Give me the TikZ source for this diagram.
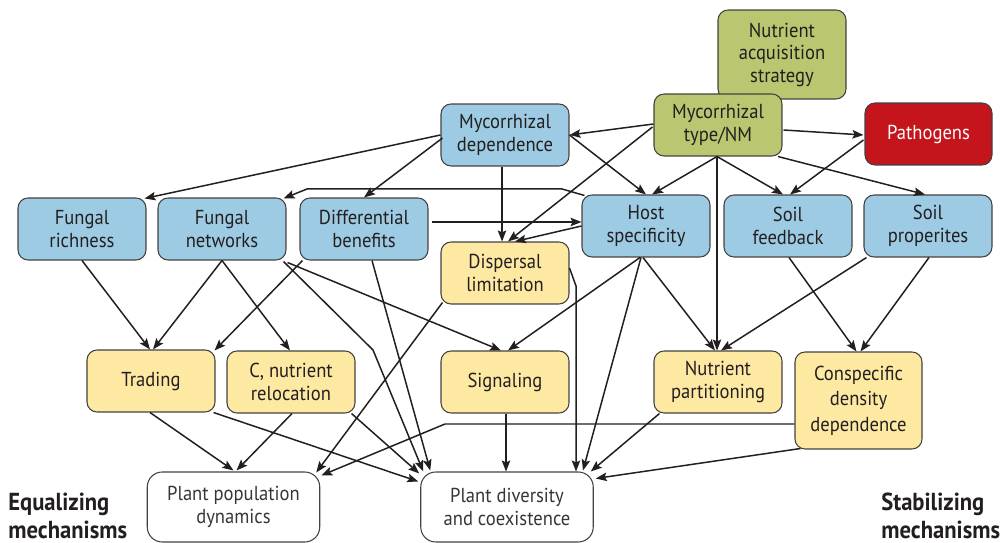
\documentclass[tikz,border=0pt]{standalone}
\usepackage{fontspec}
\setmainfont{PT Sans}[FakeStretch=0.92]
\usetikzlibrary{arrows.meta}
\definecolor{mblue}{RGB}{157,203,227}
\definecolor{mgreen}{RGB}{187,198,112}
\definecolor{mred}{RGB}{196,21,28}
\definecolor{myellow}{RGB}{254,233,163}
\definecolor{txt}{RGB}{35,31,32}
\begin{document}
\begin{tikzpicture}[x=0.02cm,y=-0.02cm,
  box/.style={draw=txt!85, line width=0.6pt, rounded corners=0.2cm,
    minimum width=2.56cm, minimum height=1.24cm, align=center,
    font=\fontsize{11.5}{12.8}\selectfont, text=txt, inner sep=1pt},
  bluebox/.style={box, fill=mblue},
  greenbox/.style={box, fill=mgreen},
  yellowbox/.style={box, fill=myellow},
  redbox/.style={box, fill=mred, text=white},
  outbox/.style={box, fill=white, draw=txt!85, rounded corners=0.3cm,
    minimum width=3.45cm, minimum height=1.4cm, text=txt!90},
  lab/.style={font=\fontsize{14}{15.5}\selectfont\bfseries, text=txt,
    align=left, anchor=north west, inner sep=0pt},
  arr/.style={draw=txt, line width=0.85pt,
    -{Stealth[length=2.2mm,width=1.7mm,inset=0.4mm]}}
]
\useasboundingbox (0,0) rectangle (1000,543);

% nodes
\node[greenbox, minimum height=1.78cm] (NAS) at (782,54.5) {Nutrient\\acquisition\\strategy};
\node[greenbox] (MT) at (718,125) {Mycorrhizal\\type/NM};
\node[redbox, minimum width=2.54cm] (PA) at (928.5,134) {Pathogens};
\node[bluebox] (MD) at (505,135) {Mycorrhizal\\dependence};
\node[bluebox] (FR) at (82,229) {Fungal\\richness};
\node[bluebox] (FN) at (222,229) {Fungal\\networks};
\node[bluebox] (DB) at (364,229) {Differential\\benefits};
\node[bluebox] (HS) at (646,226) {Host\\specificity};
\node[bluebox] (SF) at (788,226) {Soil\\feedback};
\node[bluebox] (SP) at (928,226) {Soil\\properites};
\node[yellowbox] (DL) at (505,273) {Dispersal\\limitation};
\node[yellowbox] (TR) at (151,381) {Trading};
\node[yellowbox] (CR) at (291,382) {C, nutrient\\relocation};
\node[yellowbox] (SG) at (505,382) {Signaling};
\node[yellowbox] (NP) at (718,382) {Nutrient\\partitioning};
\node[yellowbox, minimum width=2.54cm, minimum height=1.94cm, font=\fontsize{11.5}{14.5}\selectfont] (CD) at (858.5,400.5) {Conspecific\\density\\dependence};
\node[outbox] (PP) at (233.5,507) {Plant population\\dynamics};
\node[outbox] (PD) at (507,507) {Plant diversity\\and coexistence};

\node[lab] (EQ) at (8,493) {Equalizing\\mechanisms};
\node[lab] (ST) at (881,493) {Stabilizing\\mechanisms};

% connectors
\draw[arr] (MD.west) -- ([shift={(-2,1)}]FR.north east);
\draw[arr] ([shift={(2,3)}]MD.west) -- (DB.north);
\draw[arr] ([shift={(-3,0)}]MD.south) -- ([shift={(-3,0)}]DL.north);
\draw[arr] (MD.east) -- (HS.north);
\draw[arr] ([shift={(0,-1)}]MT.west) -- (MD.east);
\draw[arr] ([shift={(-1,2)}]MT.west) -- ([shift={(3,0)}]DL.north);
\draw[arr] ([shift={(-1,0)}]MT.south) -- ([shift={(6,0)}]HS.north);
\draw[arr] ([shift={(-1,0)}]MT.south) -- ([shift={(-5,0)}]SF.north);
\draw[arr] ([shift={(60,0)}]MT.south) -- ([shift={(-3,0)}]SP.north);
\draw[arr] ([shift={(1,5)}]MT.east) -- ([shift={(-1,1)}]PA.west);
\draw[arr] ([shift={(-1,0)}]MT.south) -- ([shift={(-1,0)}]NP.north);
\draw[arr] ([shift={(-1,6)}]PA.west) -- ([shift={(2,0)}]SF.north);
\draw[arr] ([shift={(3,1)}]HS.north west) -- (562,189) -- (307,189) -- ([shift={(-3,1)}]FN.north east);
\draw[arr] ([shift={(3,-7)}]DB.east) -- ([shift={(0,-4)}]HS.west);
\draw[arr] (HS.west) -- ([shift={(10,0)}]DL.north);
\draw[arr] (FR.south) -- ([shift={(-1,0)}]TR.north);
\draw[arr] (FN.south) -- ([shift={(2,0)}]TR.north);
\draw[arr] (FN.south) -- ([shift={(-1,0)}]CR.north);
\draw[arr] ([shift={(3,0)}]DB.south west) -- ([shift={(-1,1)}]TR.north east);
\draw[arr] ([shift={(-3,1)}]FN.south east) -- (373,350) -- ([shift={(3,0)}]PD.north west);
\draw[arr] ([shift={(1,2)}]FN.south east) -- ([shift={(-4,0)}]SG.north);
\draw[arr] ([shift={(8,0)}]DB.south) -- ([shift={(10,-1)}]PD.north west);
\draw[arr] ([shift={(2,-2)}]DL.south west) -- ([shift={(-4,1)}]PP.north east);
\draw[arr] ([shift={(0,-5)}]DL.east) -- (576,286) -- ([shift={(69,0)}]PD.north);
\draw[arr] ([shift={(-6,0)}]HS.south) -- ([shift={(3,0)}]SG.north);
\draw[arr] ([shift={(-5,0)}]HS.south) -- ([shift={(76,-1)}]PD.north);
\draw[arr] ([shift={(-3,0)}]HS.south) -- ([shift={(-3,0)}]NP.north);
\draw[arr] ([shift={(1,0)}]SF.south) -- ([shift={(-2,0)}]CD.north);
\draw[arr] ([shift={(3,0)}]SP.south west) -- ([shift={(3,0)}]NP.north);
\draw[arr] ([shift={(1,0)}]SP.south) -- ([shift={(2,0)}]CD.north);
\draw[arr] ([shift={(-1,0)}]TR.south) -- ([shift={(0,-1)}]PP.north);
\draw[arr] ([shift={(-2,0)}]TR.south east) -- ([shift={(-2,10)}]PD.north west);
\draw[arr] ([shift={(1,0)}]CR.south) -- ([shift={(3,-1)}]PP.north);
\draw[arr] ([shift={(-4,0)}]CR.south east) -- ([shift={(-1,2)}]PD.north west);
\draw[arr] ([shift={(1,0)}]SG.south) -- ([shift={(-1,0)}]PD.north);
\draw[arr] ([shift={(0,23.5)}]CD.west) -- (445,424) -- ([shift={(1,4)}]PP.north east);
\draw[arr] ([shift={(6,0)}]NP.south west) -- ([shift={(-3,0)}]PD.north east);
\draw[arr] ([shift={(6,-1)}]CD.south west) -- ([shift={(2,7)}]PD.north east);
\end{tikzpicture}
\end{document}
